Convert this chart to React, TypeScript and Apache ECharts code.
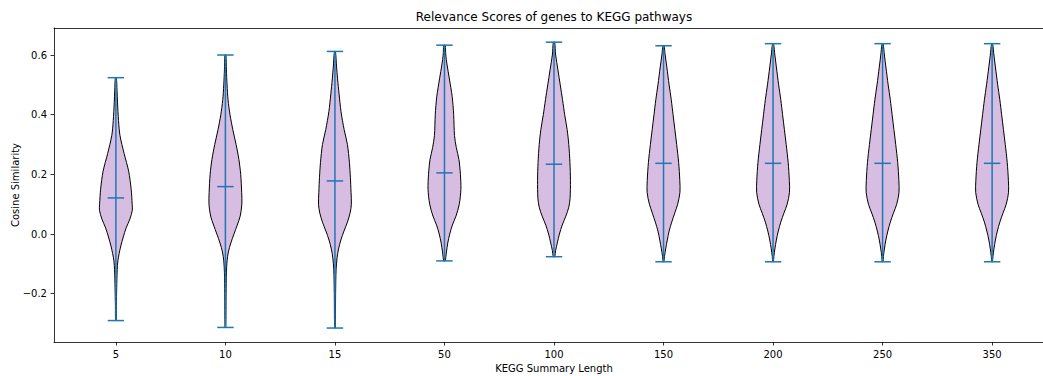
import React, { useEffect, useRef } from "react";
import * as echarts from "echarts";

const categories = ["5", "10", "15", "50", "100", "150", "200", "250", "350"];
const mins = [-0.29, -0.313, -0.315, -0.09, -0.076, -0.093, -0.093, -0.093, -0.093];
const maxs = [0.524, 0.6, 0.612, 0.633, 0.643, 0.631, 0.638, 0.638, 0.638];
const means = [0.121, 0.159, 0.178, 0.205, 0.234, 0.237, 0.237, 0.237, 0.237];
const yTicks = [-0.2, 0, 0.2, 0.4, 0.6];

// density profiles: [value, relative half-width], top to bottom
const profile5 = [[0.524,0.03],[0.48,0.07],[0.44,0.1],[0.38,0.16],[0.33,0.25],[0.27,0.5],[0.21,0.78],[0.15,0.93],[0.1,0.99],[0.08,1.0],[0.05,0.85],[0.02,0.62],[-0.01,0.45],[-0.04,0.3],[-0.065,0.2],[-0.09,0.12],[-0.12,0.08],[-0.18,0.05],[-0.24,0.03],[-0.29,0.02]];
const profile10 = [[0.6,0.03],[0.55,0.06],[0.5,0.1],[0.45,0.16],[0.4,0.28],[0.35,0.45],[0.3,0.65],[0.25,0.82],[0.2,0.93],[0.14,0.99],[0.1,1.0],[0.06,0.9],[0.03,0.72],[0.0,0.52],[-0.03,0.33],[-0.06,0.18],[-0.09,0.1],[-0.13,0.06],[-0.2,0.04],[-0.313,0.02]];
const profile15 = [[0.612,0.03],[0.56,0.1],[0.52,0.16],[0.47,0.25],[0.41,0.37],[0.35,0.56],[0.3,0.76],[0.24,0.88],[0.19,0.94],[0.14,0.98],[0.1,1.0],[0.07,0.92],[0.04,0.76],[0.01,0.55],[-0.02,0.36],[-0.05,0.22],[-0.08,0.13],[-0.12,0.07],[-0.2,0.04],[-0.315,0.02]];
const profile50 = [[0.633,0.04],[0.6,0.08],[0.57,0.15],[0.52,0.3],[0.46,0.47],[0.4,0.56],[0.33,0.61],[0.29,0.72],[0.25,0.88],[0.2,0.97],[0.15,1.0],[0.1,0.9],[0.06,0.7],[0.03,0.48],[0.0,0.32],[-0.03,0.2],[-0.06,0.12],[-0.09,0.04]];
const profile100 = [[0.643,0.04],[0.6,0.1],[0.55,0.24],[0.5,0.38],[0.45,0.52],[0.4,0.65],[0.35,0.8],[0.3,0.9],[0.24,0.97],[0.18,1.0],[0.12,0.98],[0.09,0.9],[0.06,0.72],[0.03,0.5],[0.0,0.33],[-0.03,0.2],[-0.055,0.1],[-0.076,0.04]];
const profile150 = [[0.631,0.03],[0.6,0.1],[0.56,0.2],[0.5,0.34],[0.45,0.47],[0.4,0.58],[0.35,0.69],[0.3,0.8],[0.24,0.92],[0.18,0.99],[0.14,1.0],[0.1,0.86],[0.07,0.68],[0.04,0.5],[0.01,0.34],[-0.02,0.23],[-0.05,0.13],[-0.075,0.06],[-0.093,0.02]];
const profile200 = [[0.638,0.03],[0.6,0.11],[0.56,0.2],[0.5,0.34],[0.45,0.47],[0.4,0.58],[0.35,0.69],[0.3,0.8],[0.24,0.92],[0.18,0.99],[0.14,1.0],[0.1,0.86],[0.07,0.66],[0.04,0.47],[0.01,0.32],[-0.02,0.2],[-0.05,0.11],[-0.075,0.05],[-0.093,0.02]];
const profile250 = [[0.638,0.03],[0.6,0.11],[0.56,0.2],[0.5,0.34],[0.45,0.47],[0.4,0.58],[0.35,0.69],[0.3,0.8],[0.24,0.92],[0.18,0.99],[0.14,1.0],[0.1,0.86],[0.07,0.66],[0.04,0.47],[0.01,0.32],[-0.02,0.2],[-0.05,0.11],[-0.075,0.05],[-0.093,0.02]];
const profile350 = [[0.638,0.03],[0.6,0.11],[0.56,0.2],[0.5,0.34],[0.45,0.47],[0.4,0.58],[0.35,0.69],[0.3,0.8],[0.24,0.92],[0.18,0.99],[0.14,1.0],[0.1,0.86],[0.07,0.66],[0.04,0.47],[0.01,0.32],[-0.02,0.2],[-0.05,0.11],[-0.075,0.05],[-0.093,0.02]];
const profiles = [profile5, profile10, profile15, profile50, profile100, profile150, profile200, profile250, profile350];

const HALF = 0.15; // max half-width of a violin in x units
const CAP = 0.075; // half-length of caps
const FONT = "DejaVu Sans, sans-serif";

export default function App() {
  const ref = useRef<HTMLDivElement>(null);
  useEffect(() => {
    document.body.style.margin = "0";
    const chart = echarts.init(ref.current!, null, { renderer: "svg" });
    const xMin = 0.435;
    const xMax = 9.565;
    const tickPositions = categories.map((_, i) => i + 1);
    chart.setOption({
      animation: false,
      grid: { left: 54, right: -11, top: 28, bottom: 34, containLabel: false, outerBoundsMode: "none" },
      graphic: [
        {
          type: "text",
          x: 554,
          y: 16.5,
          style: {
            text: "Relevance Scores of genes to KEGG pathways",
            font: `12px ${FONT}`,
            fill: "#000",
            textAlign: "center",
            textVerticalAlign: "middle",
          },
        },
      ],
      xAxis: [
        {
          type: "value",
          min: xMin,
          max: xMax,
          name: "KEGG Summary Length",
          nameLocation: "middle",
          nameGap: 21,
          nameMoveOverlap: false,
          nameTextStyle: { color: "#000", fontSize: 10, fontFamily: FONT },
          axisLine: { show: true, onZero: false, lineStyle: { color: "#000", width: 0.8 } },
          axisTick: { show: true, length: 3.5, customValues: tickPositions, lineStyle: { color: "#000", width: 0.8 } },
          axisLabel: {
            show: true,
            customValues: tickPositions,
            margin: 7,
            color: "#000",
            fontSize: 10,
            fontFamily: FONT,
            formatter: (v: number) => categories[Math.round(v) - 1] ?? "",
          },
          splitLine: { show: false },
        },
        {
          type: "value",
          position: "top",
          min: xMin,
          max: xMax,
          axisLine: { show: true, onZero: false, lineStyle: { color: "#000", width: 0.8 } },
          axisTick: { show: false },
          axisLabel: { show: false },
          splitLine: { show: false },
        },
      ],
      yAxis: {
        type: "value",
        min: -0.3618,
        max: 0.6905,
        name: "Cosine Similarity",
        nameLocation: "middle",
        nameGap: 34,
        nameRotate: 90,
        nameMoveOverlap: false,
        nameTextStyle: { color: "#000", fontSize: 10, fontFamily: FONT },
        axisLine: { show: true, onZero: false, lineStyle: { color: "#000", width: 0.8 } },
        axisTick: { show: true, length: 3.5, customValues: yTicks, lineStyle: { color: "#000", width: 0.8 } },
        axisLabel: {
          show: true,
          customValues: yTicks,
          margin: 7,
          color: "#000",
          fontSize: 10,
          fontFamily: FONT,
          formatter: (v: number) => v.toFixed(1).replace("-", "\u2212"),
        },
        splitLine: { show: false },
      },
      series: [
        {
          type: "custom",
          xAxisIndex: 0,
          yAxisIndex: 0,
          data: categories.map((_, i) => [i]),
          renderItem: (params: any, api: any) => {
            const i = api.value(0);
            const pos = i + 1;
            const prof = profiles[i];
            const right = prof.map(([v, w]) => api.coord([pos + w * HALF, v]));
            const left = prof
              .slice()
              .reverse()
              .map(([v, w]) => api.coord([pos - w * HALF, v]));
            const pts = right.concat(left);
            const line = (x1: number, y1: number, x2: number, y2: number) => {
              const a = api.coord([x1, y1]);
              const b = api.coord([x2, y2]);
              return {
                type: "line",
                shape: { x1: a[0], y1: a[1], x2: b[0], y2: b[1] },
                style: { stroke: "#1f77b4", lineWidth: 1.5 },
              };
            };
            return {
              type: "group",
              children: [
                {
                  type: "polygon",
                  shape: { points: pts, smooth: 0.3 },
                  style: { fill: "#d7bde2", stroke: "#000", lineWidth: 1 },
                },
                line(pos, mins[i], pos, maxs[i]),
                line(pos - CAP, mins[i], pos + CAP, mins[i]),
                line(pos - CAP, maxs[i], pos + CAP, maxs[i]),
                line(pos - CAP, means[i], pos + CAP, means[i]),
              ],
            };
          },
        },
      ],
    });
    return () => chart.dispose();
  }, []);
  return <div ref={ref} style={{ width: 1043, height: 376 }} />;
}
